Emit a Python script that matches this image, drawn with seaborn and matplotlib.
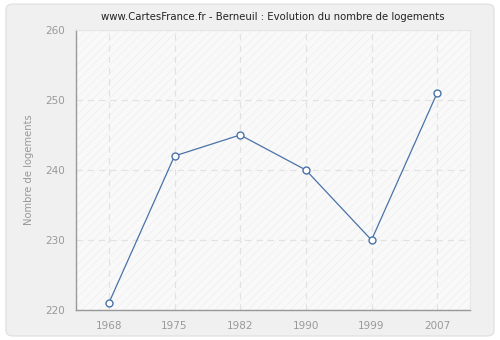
import matplotlib
matplotlib.use("Agg")
import matplotlib.pyplot as plt
from matplotlib.patches import FancyBboxPatch
import seaborn as sns
import pandas as pd

years = ["1968", "1975", "1982", "1990", "1999", "2007"]
logements = [221, 242, 245, 240, 230, 251]
y_ticks = [220, 230, 240, 250, 260]

sns.set_style("white")
plt.rcParams["font.family"] = ["DejaVu Sans"]
plt.rcParams["hatch.linewidth"] = 0.6

df = pd.DataFrame({"pos": range(len(years)), "val": logements})

fig = plt.figure(figsize=(5, 3.4), dpi=100)
fig.patch.set_facecolor("white")
panel = FancyBboxPatch((0.012, 0.012), 0.976, 0.976,
                       boxstyle="round,pad=0,rounding_size=0.015",
                       transform=fig.transFigure, facecolor="#f0f0f0",
                       edgecolor="#e2e2e2", linewidth=1.0, zorder=-10)
fig.patches.append(panel)

ax = fig.add_axes([0.152, 0.088, 0.788, 0.824])
ax.set_zorder(1)
ax.set_facecolor("#f9f9f9")
ax.patch.set_hatch("////")
ax.patch.set_edgecolor("#f0f0f0")
ax.patch.set_linewidth(0)

sns.lineplot(data=df, x="pos", y="val", ax=ax, color="#4a72a8", linewidth=0.9,
             marker="o", markersize=5, markerfacecolor="white",
             markeredgecolor="#4a72a8", markeredgewidth=1.0, zorder=3)

ax.set_xlim(-0.5, len(years) - 0.5)
ax.set_ylim(220, 260)
ax.set_xticks(range(len(years)))
ax.set_xticklabels(years)
ax.set_yticks(y_ticks)
ax.grid(True, color="#e2e2e2", linestyle=(0, (5, 4)), linewidth=0.9)
ax.set_axisbelow(True)

for side in ["top", "right"]:
    ax.spines[side].set_color("#e6e6e6")
    ax.spines[side].set_linewidth(0.8)
for side in ["left", "bottom"]:
    ax.spines[side].set_color("#999999")
    ax.spines[side].set_linewidth(1.0)

ax.tick_params(axis="both", colors="#999999", labelcolor="#999999",
               labelsize=7.5, length=5, width=1.0, direction="out", pad=3)
ax.set_xlabel("")
ax.set_ylabel("Nombre de logements", color="#999999", fontsize=7.2, labelpad=8)
ax.set_title("www.CartesFrance.fr - Berneuil : Evolution du nombre de logements",
             fontsize=7.3, color="#222222", pad=7)

fig.savefig("out.png", dpi=100, facecolor=fig.get_facecolor())
